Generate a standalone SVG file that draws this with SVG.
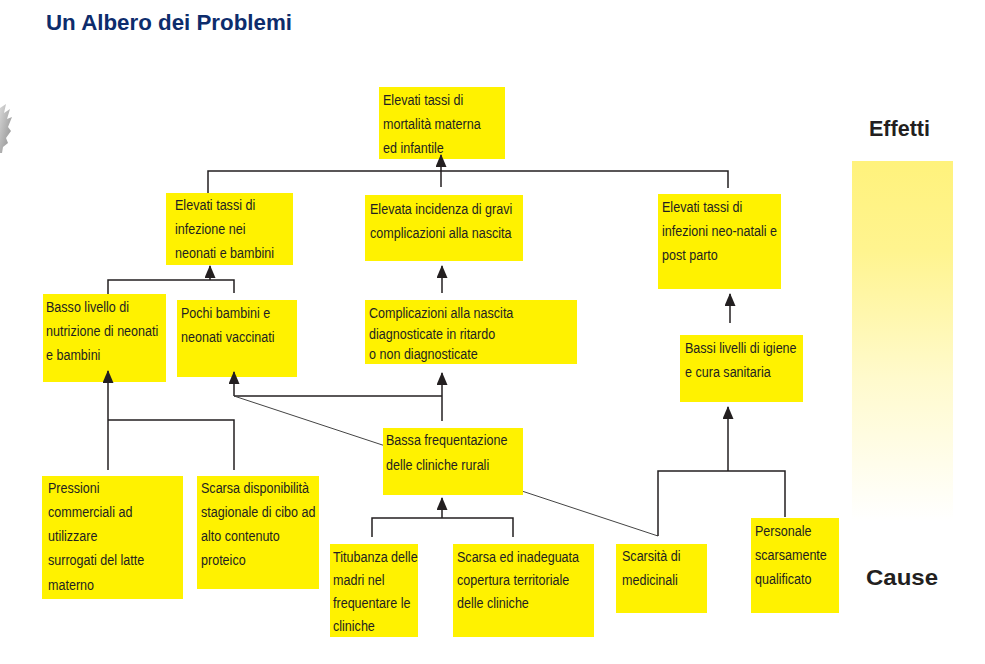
<svg xmlns="http://www.w3.org/2000/svg" width="985" height="664" viewBox="0 0 985 664">
<defs>
<linearGradient id="fade" x1="0" y1="0" x2="0" y2="1">
<stop offset="0" stop-color="#fff27c"/>
<stop offset="0.25" stop-color="#fff48f"/>
<stop offset="0.6" stop-color="#fffacc"/>
<stop offset="1" stop-color="#ffffff"/>
</linearGradient>
<linearGradient id="logo" x1="0" y1="0" x2="1" y2="1">
<stop offset="0" stop-color="#d8d8d8"/>
<stop offset="1" stop-color="#8a8a8a"/>
</linearGradient>
<marker id="arr" viewBox="0 0 13 11" refX="12" refY="5.5" markerWidth="13" markerHeight="11" markerUnits="userSpaceOnUse" orient="auto">
<path d="M0,0 L13,5.5 L0,11 z" fill="#231f20"/>
</marker>
</defs>
<style>
.box{fill:#fff200;}
.t{font-family:"Liberation Sans",Arial,sans-serif;font-size:15.5px;fill:#231f20;}
.c{fill:none;stroke:#231f20;stroke-width:1.5;}
.a{fill:none;stroke:#231f20;stroke-width:1.5;marker-end:url(#arr);}
.d{fill:none;stroke:#444;stroke-width:1;}
.h{font-family:"Liberation Sans",Arial,sans-serif;font-weight:bold;font-size:22px;}
</style>
<rect width="985" height="664" fill="#ffffff"/>

<text class="h" x="46" y="30" fill="#0d2c6c" textLength="246" lengthAdjust="spacingAndGlyphs">Un Albero dei Problemi</text>

<g id="logo-fragment" fill="url(#logo)">
<path d="M0,108 L6,104 L4,113 L10,109 L7,119 L12,117 L8,127 L11,131 L6,138 L8,143 L3,147 L2,153 L0,153 z"/>
</g>

<g id="scale">
<rect x="852" y="161" width="101" height="360" fill="url(#fade)"/>
<text class="h" x="869" y="136" fill="#231f20" textLength="61" lengthAdjust="spacingAndGlyphs">Effetti</text>
<text class="h" x="866" y="585" fill="#231f20" textLength="72" lengthAdjust="spacingAndGlyphs">Cause</text>
</g>

<g id="n-mortalita">
<rect class="box" x="379" y="87" width="126" height="72"/>
<text class="t" transform="translate(383,105) scale(0.81,1)">Elevati tassi di</text>
<text class="t" transform="translate(383,129) scale(0.81,1)">mortalità materna</text>
<text class="t" transform="translate(383,153) scale(0.81,1)">ed  infantile</text>
</g>

<g id="n-infezione">
<rect class="box" x="166" y="193" width="127" height="72"/>
<text class="t" transform="translate(175,210) scale(0.81,1)">Elevati tassi di</text>
<text class="t" transform="translate(175,234) scale(0.81,1)">infezione nei</text>
<text class="t" transform="translate(175,258) scale(0.81,1)">neonati e bambini</text>
</g>

<g id="n-incidenza">
<rect class="box" x="365" y="195" width="158" height="66"/>
<text class="t" transform="translate(370,214) scale(0.81,1)">Elevata incidenza di gravi</text>
<text class="t" transform="translate(370,238) scale(0.81,1)">complicazioni alla nascita</text>
</g>

<g id="n-neonatali">
<rect class="box" x="658" y="194" width="123" height="95"/>
<text class="t" transform="translate(662,212) scale(0.81,1)">Elevati tassi di</text>
<text class="t" transform="translate(662,236) scale(0.81,1)">infezioni neo-natali e</text>
<text class="t" transform="translate(662,260) scale(0.81,1)">post parto</text>
</g>

<g id="n-nutrizione">
<rect class="box" x="43" y="294" width="123" height="88"/>
<text class="t" transform="translate(46,312) scale(0.81,1)">Basso livello di</text>
<text class="t" transform="translate(46,336) scale(0.81,1)">nutrizione di neonati</text>
<text class="t" transform="translate(46,360) scale(0.81,1)">e bambini</text>
</g>

<g id="n-vaccinati">
<rect class="box" x="177" y="300" width="120" height="77"/>
<text class="t" transform="translate(181,318) scale(0.81,1)">Pochi bambini e</text>
<text class="t" transform="translate(181,342) scale(0.81,1)">neonati vaccinati</text>
</g>

<g id="n-complicazioni">
<rect class="box" x="365" y="300" width="212" height="64"/>
<text class="t" transform="translate(369,318) scale(0.81,1)">Complicazioni alla nascita</text>
<text class="t" transform="translate(369,338.5) scale(0.81,1)">diagnosticate in ritardo</text>
<text class="t" transform="translate(369,359) scale(0.81,1)">o non diagnosticate</text>
</g>

<g id="n-igiene">
<rect class="box" x="680" y="335" width="123" height="67"/>
<text class="t" transform="translate(685,353) scale(0.81,1)">Bassi livelli di igiene</text>
<text class="t" transform="translate(685,377) scale(0.81,1)">e cura sanitaria</text>
</g>

<g id="n-frequentazione">
<rect class="box" x="383" y="428" width="140" height="67"/>
<text class="t" transform="translate(386,445) scale(0.81,1)">Bassa frequentazione</text>
<text class="t" transform="translate(386,470) scale(0.81,1)">delle cliniche rurali</text>
</g>

<g id="n-pressioni">
<rect class="box" x="42" y="476" width="141" height="123"/>
<text class="t" transform="translate(48,493) scale(0.81,1)">Pressioni</text>
<text class="t" transform="translate(48,517) scale(0.81,1)">commerciali ad</text>
<text class="t" transform="translate(48,541) scale(0.81,1)">utilizzare</text>
<text class="t" transform="translate(48,565) scale(0.81,1)">surrogati del latte</text>
<text class="t" transform="translate(48,590) scale(0.81,1)">materno</text>
</g>

<g id="n-disponibilita">
<rect class="box" x="197" y="476" width="122" height="113"/>
<text class="t" transform="translate(201,493) scale(0.81,1)">Scarsa disponibilità</text>
<text class="t" transform="translate(201,517) scale(0.81,1)">stagionale di cibo ad</text>
<text class="t" transform="translate(201,541) scale(0.81,1)">alto contenuto</text>
<text class="t" transform="translate(201,565) scale(0.81,1)">proteico</text>
</g>

<g id="n-titubanza">
<rect class="box" x="330" y="544" width="88" height="93"/>
<text class="t" transform="translate(333,562) scale(0.81,1)">Titubanza delle</text>
<text class="t" transform="translate(333,585) scale(0.81,1)">madri nel</text>
<text class="t" transform="translate(333,608) scale(0.81,1)">frequentare le</text>
<text class="t" transform="translate(333,631) scale(0.81,1)">cliniche</text>
</g>

<g id="n-copertura">
<rect class="box" x="453" y="544" width="141" height="93"/>
<text class="t" transform="translate(457,562) scale(0.81,1)">Scarsa ed inadeguata</text>
<text class="t" transform="translate(457,585) scale(0.81,1)">copertura territoriale</text>
<text class="t" transform="translate(457,608) scale(0.81,1)">delle cliniche</text>
</g>

<g id="n-medicinali">
<rect class="box" x="616" y="544" width="91" height="69"/>
<text class="t" transform="translate(622,561) scale(0.81,1)">Scarsità di</text>
<text class="t" transform="translate(622,585) scale(0.81,1)">medicinali</text>
</g>

<g id="n-personale">
<rect class="box" x="751" y="518" width="88" height="95"/>
<text class="t" transform="translate(755,536) scale(0.81,1)">Personale</text>
<text class="t" transform="translate(755,560) scale(0.81,1)">scarsamente</text>
<text class="t" transform="translate(755,584) scale(0.81,1)">qualificato</text>
</g>

<g id="connectors">
<path class="c" d="M208,193 V171 H728 V188"/>
<path class="a" d="M441,187 V155"/>
<path class="c" d="M108,294 V280 H234 V293"/>
<path class="a" d="M210,280 V266"/>
<path class="a" d="M442,293 V266"/>
<path class="a" d="M730,323 V294"/>
<path class="a" d="M108,470 V371"/>
<path class="c" d="M108,420 H234 V470"/>
<path class="c" d="M234,396 H442"/>
<path class="a" d="M234,396 V372"/>
<path class="a" d="M442,421 V373"/>
<path class="d" d="M234,396 L383,445.2 M523,491.4 L658,536"/>
<path class="c" d="M658,536 V471 H785 V517"/>
<path class="a" d="M728,471 V407"/>
<path class="c" d="M372,537 V518 H513 V537"/>
<path class="a" d="M442,518 V498"/>
</g>
</svg>
